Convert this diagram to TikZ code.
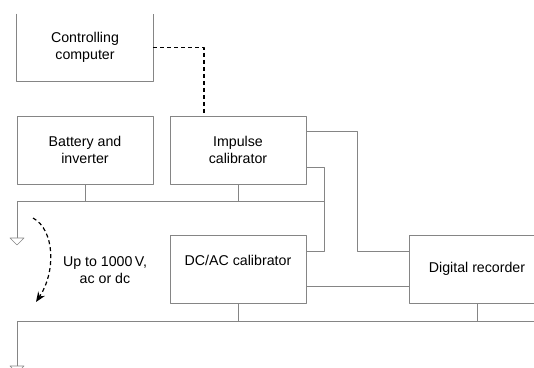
\documentclass[tikz,border=0pt]{standalone}
\usepackage{fontspec}
\setmainfont{Liberation Sans}
\usetikzlibrary{arrows.meta,calc}
\definecolor{wire}{HTML}{858585}
\tikzset{
  blk/.style={draw=wire, line width=.8pt, minimum width=136pt, minimum height=68pt, align=center, inner sep=0pt},
  wr/.style={draw=wire, line width=.8pt},
  gnd/.style={draw=wire, line width=.6pt},
}
\begin{document}
\begin{tikzpicture}[x=1pt, y=-1pt, font=\fontsize{14.2}{16.5}\selectfont, line join=round, >=Stealth]
	\useasboundingbox (0,0) rectangle (534,367);
	\clip (0,0) rectangle (534,367);
	% boxes
	\node[blk, draw=none, minimum height=67pt] (comp) at (85,47.5) {Controlling\\computer};
	\draw[wr] (comp.north west) -- (comp.south west) -- (comp.south east) -- (comp.north east);
	\node[blk] (bat) at (85,150) {Battery and\\inverter};
	\node[blk] (imp) at (238,150) {Impulse\\calibrator};
	\node[blk, text depth=18pt] (dcac) at (238,269) {DC/AC calibrator};
	\node[blk] (dig) at (477,269) {Digital recorder};
	\node[align=center] (volt) at (105,270) {Up to 1000\,V,\\ac or dc};
	% bus points
	\coordinate (bl) at (17,201);
	\coordinate (br) at (324,201);
	\coordinate (cl) at (17,321);
	\coordinate (cr) at (534,321);
	\coordinate (g1) at (17,238);
	\coordinate (g2) at (17,366);
	% control link
	\draw[line width=1.2pt, dash pattern=on 4pt off 3pt] (comp.east) -| ($(imp.north)+(-34,0)$);
	% wiring
	\draw[wr] (bat.south) -- (bat.south |- bl);
	\draw[wr] (imp.south) -- (imp.south |- bl);
	\draw[wr] (g1) -- (bl) -- (br);
	\draw[wr] ($(imp.south east)+(0,-17)$) -| ($(dcac.north east)+(18,17)$) -- ($(dcac.north east)+(0,17)$);
	\draw[wr] ($(imp.north east)+(0,16)$) -| ($(dig.north west)+(-51,17)$) -- ($(dig.north west)+(0,17)$);
	\draw[wr] ($(dcac.south east)+(0,-17)$) -- ($(dig.south west)+(0,-17)$);
	\draw[wr] (dcac.south) -- (dcac.south |- cl);
	\draw[wr] (dig.south) -- (dig.south |- cl);
	\draw[wr] (g2) -- (cl) -- (cr);
	% grounds
	\draw[gnd] ($(g1)+(-7,0)$) -- ($(g1)+(7,0)$) -- ($(g1)+(0,7)$) -- cycle;
	\draw[gnd] ($(g2)+(-7,0)$) -- ($(g2)+(7,0)$) -- ($(g2)+(0,7)$) -- cycle;
	% voltage arrow
	\draw[->, line width=1.2pt, dash pattern=on 4pt off 3pt, >={Stealth[length=10pt,width=8pt]}] (33,218) .. controls (55,230) and (56,272) .. (36,302);
\end{tikzpicture}
\end{document}
